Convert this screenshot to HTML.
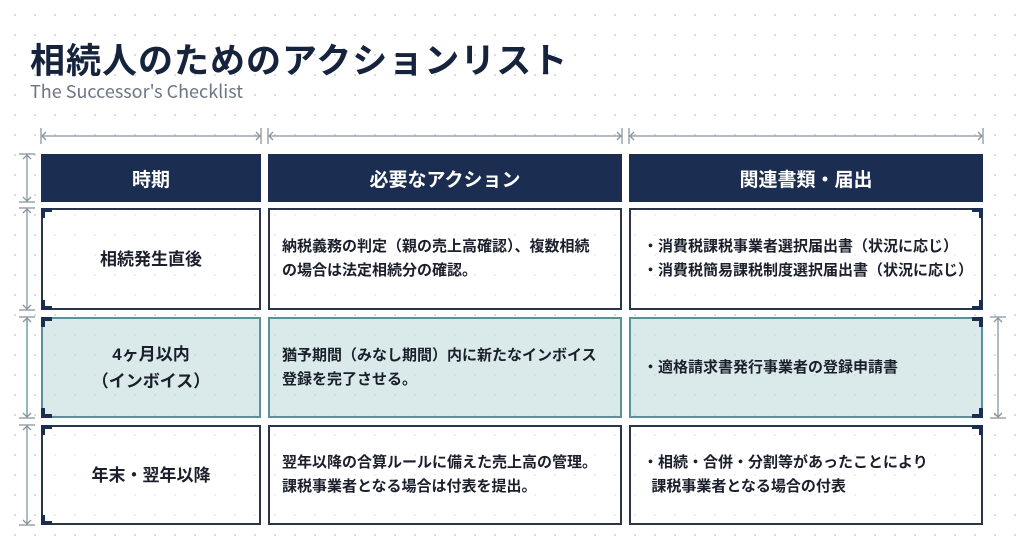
<!DOCTYPE html>
<html><head><meta charset="utf-8"><style>
*{margin:0;padding:0;box-sizing:border-box}
body{width:1024px;height:551px;overflow:hidden;position:relative;background:#fff;
background-image:radial-gradient(circle,#d3d7dc 0.9px,transparent 1.2px);background-size:20px 20px;background-position:5px 5px;
font-family:"Liberation Sans","Noto Sans CJK JP",sans-serif;color:#1a1f2b}
.t{position:absolute;left:30px;top:33px;font-size:35px;font-weight:bold;color:#16233d;letter-spacing:1px;white-space:nowrap}
.s{position:absolute;left:30px;top:80px;font-size:18px;color:#6c7683;white-space:nowrap;font-family:"Noto Sans CJK JP","Liberation Sans",sans-serif;line-height:22px}
.h{position:absolute;top:154px;height:48px;background:#1b2d50;color:#fff;font-size:19px;font-weight:bold;display:flex;align-items:center;justify-content:center}
.c{position:absolute;border:2px solid #2a3548;background:rgba(255,255,255,0.6);font-size:15px;font-weight:bold;display:flex;align-items:center;line-height:24px}
.g{background:rgba(205,225,227,0.75);border-color:#5b9298}
.ctr{justify-content:center;text-align:center;font-size:17px;line-height:27px}
.l{padding-left:12px}
svg{position:absolute;left:0;top:0}
</style></head><body>
<div class="t">相続人のためのアクションリスト</div>
<div class="s">The Successor's Checklist</div>
<div class="h" style="left:41px;width:220px">時期</div>
<div class="h" style="left:268px;width:354px">必要なアクション</div>
<div class="h" style="left:629px;width:354px">関連書類・届出</div>

<div class="c ctr" style="left:41px;top:208px;width:220px;height:102px">相続発生直後</div>
<div class="c l" style="left:268px;top:208px;width:354px;height:102px">納税義務の判定（親の売上高確認）、複数相続<br>の場合は法定相続分の確認。</div>
<div class="c l" style="left:629px;top:208px;width:354px;height:102px">・消費税課税事業者選択届出書（状況に応じ）<br>・消費税簡易課税制度選択届出書（状況に応じ）</div>

<div class="c g ctr" style="left:41px;top:317px;width:220px;height:101px">4ヶ月以内<br>（インボイス）</div>
<div class="c g l" style="left:268px;top:317px;width:354px;height:101px">猶予期間（みなし期間）内に新たなインボイス<br>登録を完了させる。</div>
<div class="c g l" style="left:629px;top:317px;width:354px;height:101px">・適格請求書発行事業者の登録申請書</div>

<div class="c ctr" style="left:41px;top:425px;width:220px;height:100px">年末・翌年以降</div>
<div class="c l" style="left:268px;top:425px;width:354px;height:100px">翌年以降の合算ルールに備えた売上高の管理。<br>課税事業者となる場合は付表を提出。</div>
<div class="c l" style="left:629px;top:425px;width:354px;height:100px">・相続・合併・分割等があったことにより<br>&nbsp;&nbsp;課税事業者となる場合の付表</div>

<svg width="1024" height="551" fill="none">
<g stroke="#8a949e" stroke-width="1.3">
<line x1="41" y1="136" x2="261" y2="136"/><line x1="41" y1="128" x2="41" y2="144"/><line x1="261" y1="128" x2="261" y2="144"/>
<path d="M46 132L42 136L46 140M256 132L260 136L256 140"/>
<line x1="268" y1="136" x2="622" y2="136"/><line x1="268" y1="128" x2="268" y2="144"/><line x1="622" y1="128" x2="622" y2="144"/>
<path d="M273 132L269 136L273 140M617 132L621 136L617 140"/>
<line x1="629" y1="136" x2="983" y2="136"/><line x1="629" y1="128" x2="629" y2="144"/><line x1="983" y1="128" x2="983" y2="144"/>
<path d="M634 132L630 136L634 140M978 132L982 136L978 140"/>
<g transform="translate(27,0)">
<line x1="0" y1="154" x2="0" y2="202"/><line x1="-8" y1="154" x2="8" y2="154"/><line x1="-8" y1="202" x2="8" y2="202"/><path d="M-4 159L0 155L4 159M-4 197L0 201L4 197"/>
<line x1="0" y1="208" x2="0" y2="310"/><line x1="-8" y1="208" x2="8" y2="208"/><line x1="-8" y1="310" x2="8" y2="310"/><path d="M-4 213L0 209L4 213M-4 305L0 309L4 305"/>
<line x1="0" y1="317" x2="0" y2="418" stroke="#5b9298"/><line x1="-8" y1="317" x2="8" y2="317"/><line x1="-8" y1="418" x2="8" y2="418"/><path d="M-4 322L0 318L4 322M-4 413L0 417L4 413"/>
<line x1="0" y1="425" x2="0" y2="525"/><line x1="-8" y1="425" x2="8" y2="425"/><line x1="-8" y1="525" x2="8" y2="525"/><path d="M-4 430L0 426L4 430M-4 520L0 524L4 520"/>
</g>
<g transform="translate(998,0)">
<line x1="0" y1="317" x2="0" y2="418"/><line x1="-8" y1="317" x2="8" y2="317"/><line x1="-8" y1="418" x2="8" y2="418"/><path d="M-4 322L0 318L4 322M-4 413L0 417L4 413"/>
</g>
</g>
<g stroke="#1b2d50" stroke-width="4">
<path d="M43 218V210H52M43 300V308H52"/>
<path d="M43 327V319H52M43 408V416H52"/>
<path d="M43 435V427H52M43 515V523H52"/>
<path d="M981 218V210H972M981 300V308H972"/>
<path d="M981 327V319H972M981 408V416H972"/>
<path d="M981 435V427H972"/>
</g>
</svg>
</body></html>
